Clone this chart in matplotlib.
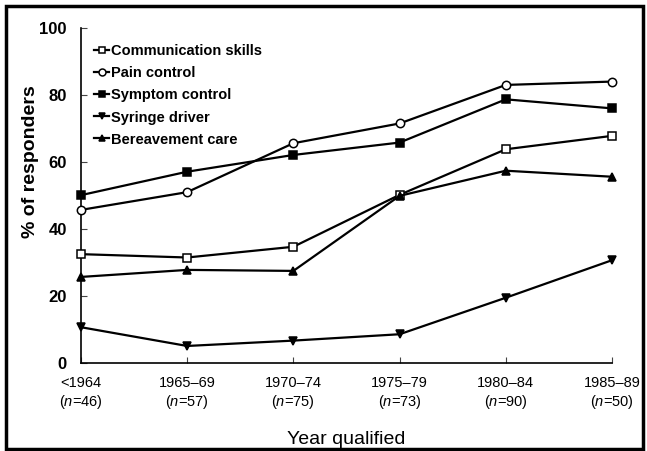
import matplotlib
matplotlib.use("Agg")

import matplotlib.pyplot as plt
from matplotlib.patches import Rectangle

plt.rcParams["font.family"] = ["Liberation Sans", "DejaVu Sans"]
plt.rcParams["mathtext.fontset"] = "custom"
plt.rcParams["mathtext.rm"] = "Liberation Sans"
plt.rcParams["mathtext.it"] = "Liberation Sans:italic"

# ---- data ----
periods = ["<1964", "1965\u201369", "1970\u201374", "1975\u201379", "1980\u201384", "1985\u201389"]
n_resp = [46, 57, 75, 73, 90, 50]

communication = [32.5, 31.5, 34.7, 50.2, 63.8, 67.8]
pain = [45.7, 51.0, 65.6, 71.5, 83.0, 84.0]
symptom = [50.1, 57.1, 62.1, 65.8, 78.7, 76.0]
syringe = [10.7, 5.1, 6.7, 8.6, 19.5, 30.7]
bereavement = [25.7, 27.8, 27.5, 49.9, 57.4, 55.6]

series = [
    ("Communication skills", communication, "s", "white"),
    ("Pain control", pain, "o", "white"),
    ("Symptom control", symptom, "s", "black"),
    ("Syringe driver", syringe, "v", "black"),
    ("Bereavement care", bereavement, "^", "black"),
]

# ---- plot ----
fig = plt.figure(figsize=(6.47, 4.51), dpi=100)
ax = fig.add_axes([0.125, 0.195, 0.821, 0.743])

x = list(range(len(periods)))
for label, vals, mk, face in series:
    ax.plot(x, vals, color="black", lw=1.6, marker=mk, markersize=6,
            markerfacecolor=face, markeredgecolor="black", markeredgewidth=1.1,
            label=label, clip_on=False, zorder=3)

ax.set_xlim(0, 5)
ax.set_ylim(0, 100)
ax.set_yticks(range(0, 101, 20))
ax.set_xticks(x)
ax.set_xticklabels([f"{p}\n($\\it{{n}}$={n})" for p, n in zip(periods, n_resp)],
                   fontsize=10.5, linespacing=1.3)
for t in ax.get_yticklabels():
    t.set_fontsize(12)
    t.set_fontweight("bold")

ax.tick_params(axis="both", direction="in", length=4, width=0.8, color="#444444")
ax.tick_params(axis="y", pad=10)
ax.tick_params(axis="x", pad=9)

for side in ["top", "right"]:
    ax.spines[side].set_visible(False)
for side in ["left", "bottom"]:
    ax.spines[side].set_linewidth(1.2)

ax.set_ylabel("% of responders", fontsize=14, fontweight="bold")
ax.yaxis.set_label_coords(-0.078, 0.6)
ax.set_xlabel("Year qualified", fontsize=14, labelpad=14)

leg = ax.legend(loc="upper left", bbox_to_anchor=(0.0, 0.99), frameon=False,
                handlelength=1.05, handletextpad=0.1, labelspacing=0.55,
                prop={"weight": "bold", "size": 10.5})
for h in leg.legend_handles:
    h.set_markersize(5)

# outer frame of the figure
fig.patches.append(Rectangle((0.009, 0.005), 0.985, 0.982, transform=fig.transFigure,
                             fill=False, edgecolor="black", lw=2.5))

fig.savefig("out.png", dpi=100)
plt.close(fig)
